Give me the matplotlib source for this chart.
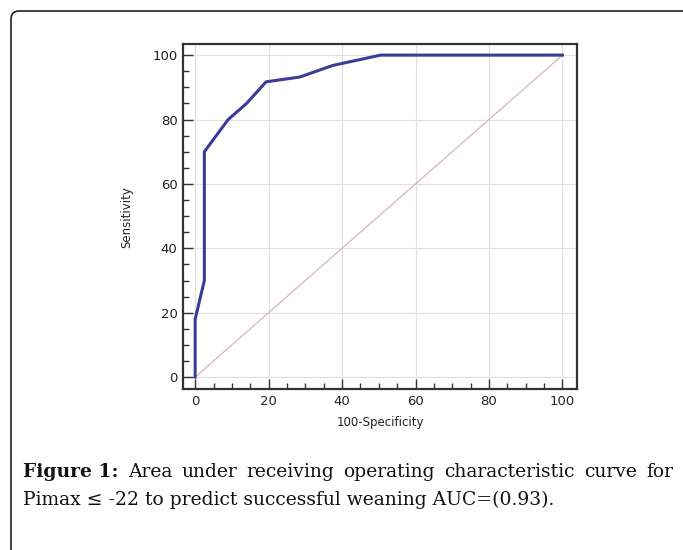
import numpy as np
import matplotlib.pyplot as plt
from matplotlib.patches import FancyBboxPatch
from matplotlib.ticker import MultipleLocator

# ROC curve points (100-Specificity, Sensitivity)
fpr = [0, 0, 2.5, 2.5, 9, 14, 19.3, 28.5, 37.5, 50.5, 100]
tpr = [0, 18, 30, 70, 80, 85, 91.7, 93.2, 96.8, 100, 100]
ref_line = [0, 100]
x_ticks = [0, 20, 40, 60, 80, 100]
y_ticks = [0, 20, 40, 60, 80, 100]

caption_bold = "Figure 1:"
caption_l1 = "Area under receiving operating characteristic curve for"
caption_l2 = "Pimax \u2264 -22 to predict successful weaning AUC=(0.93)."

fig = plt.figure(figsize=(6.83, 5.5), dpi=100)

# rounded frame (top + left visible)
frame = FancyBboxPatch((0.11, -1.0), 8.0, 6.39, boxstyle="round,pad=0,rounding_size=0.08",
                       transform=fig.dpi_scale_trans, fill=False, lw=1.2, ec='#222222')
fig.add_artist(frame)

ax = fig.add_axes([0.268, 0.2927, 0.577, 0.627])
ax.plot(ref_line, ref_line, color='#d9b3b3', lw=0.9, zorder=2)
ax.plot(fpr, tpr, color='#3b3b98', lw=2.2, zorder=3)

ax.set_xlim(-3.3, 104)
ax.set_ylim(-3.7, 103.4)
ax.set_xticks(x_ticks)
ax.set_yticks(y_ticks)
ax.xaxis.set_minor_locator(MultipleLocator(5))
ax.yaxis.set_minor_locator(MultipleLocator(5))
ax.grid(True, which='major', color='#e2e2e2', lw=0.9, zorder=0)
ax.tick_params(which='major', direction='in', length=7, width=1.0, color='#333333',
               labelsize=9.5, labelcolor='#222222', pad=4)
ax.tick_params(which='minor', direction='in', length=4, width=1.0, color='#333333')
for s in ax.spines.values():
    s.set_linewidth(1.6)
    s.set_color('#333333')
for lab in ax.get_xticklabels() + ax.get_yticklabels():
    lab.set_family('DejaVu Sans')

ax.set_xlabel('100-Specificity', fontsize=8.5, family='DejaVu Sans', labelpad=6,
              color='#222222')
ax.set_ylabel('Sensitivity', fontsize=8.5, family='DejaVu Sans', labelpad=14,
              color='#222222')

# caption, first line justified
fig.canvas.draw()
r = fig.canvas.get_renderer()
x0, x1, yl1 = 23 / 683, 673 / 683, 1 - 477 / 550
words = [(caption_bold, 'bold')] + [(w, 'normal') for w in caption_l1.split()]
arts = []
for w, wt in words:
    t = fig.text(0, yl1, w, fontsize=13.5, family='DejaVu Serif', weight=wt,
                 va='baseline', ha='left', color='#111111')
    arts.append(t)
widths = [a.get_window_extent(r).width / fig.bbox.width for a in arts]
gap = (x1 - x0 - sum(widths)) / (len(arts) - 1)
x = x0
for a, wd in zip(arts, widths):
    a.set_x(x)
    x += wd + gap
fig.text(x0, 1 - 505 / 550, caption_l2, fontsize=13.5, family='DejaVu Serif',
         va='baseline', ha='left', color='#111111')

fig.savefig('out.png', dpi=100)
